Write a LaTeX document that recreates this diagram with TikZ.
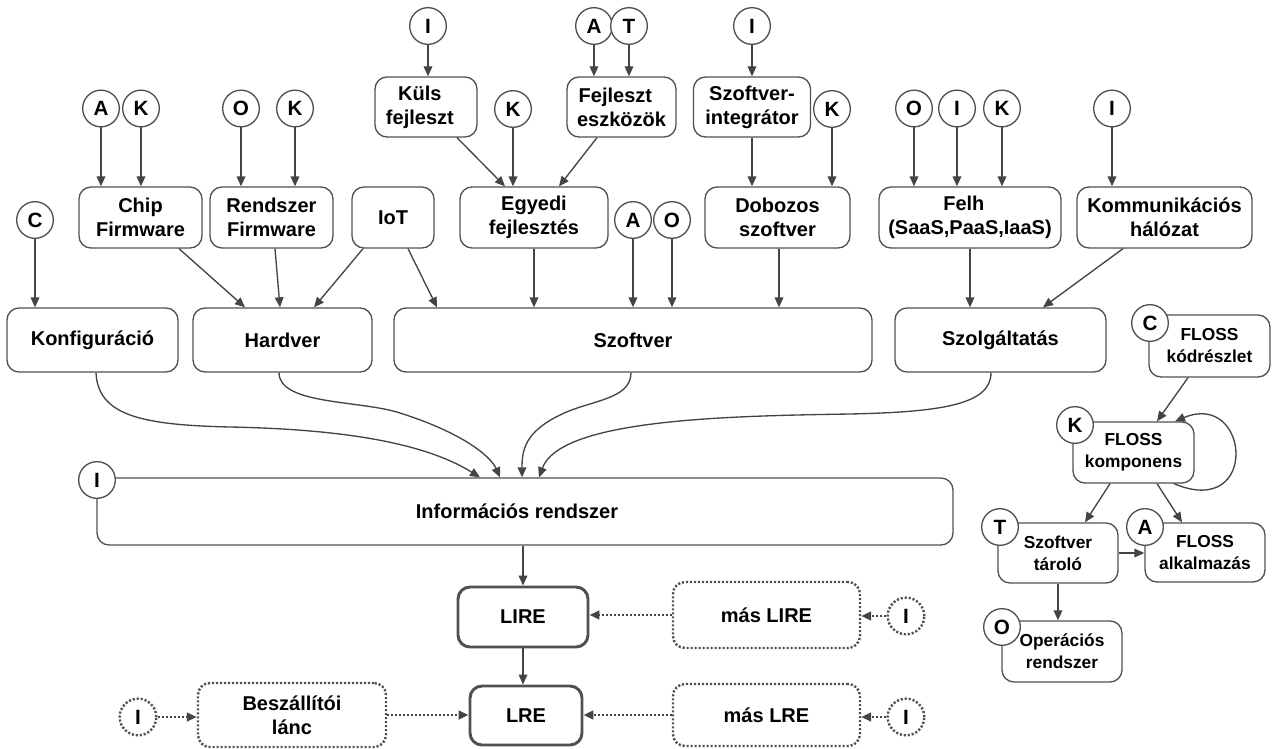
\documentclass[tikz,border=0pt]{standalone}
\usepackage{fontspec}
\setmainfont{Liberation Sans}
\usetikzlibrary{arrows.meta,calc}
\definecolor{ln}{HTML}{444444}
\definecolor{bd}{HTML}{505050}
\begin{document}
\begin{tikzpicture}[x=0.75pt,y=-0.75pt,
  bx/.style 2 args={draw=bd,line width=1pt,rounded corners=9pt,fill=white,
    minimum width=#1*0.75pt,minimum height=#2*0.75pt,inner sep=0pt,align=center,
    font=\bfseries\fontsize{15}{18}\selectfont},
  fbx/.style 2 args={bx={#1}{#2},font=\bfseries\fontsize{13}{16.5}\selectfont},
  thk/.style={line width=2.2pt},
  dbx/.style 2 args={bx={#1}{#2},draw=bd,line width=1.8pt,dash pattern=on 1.6pt off 1.4pt},
  cir/.style={circle,draw=bd,line width=1pt,fill=white,minimum size=27.5pt,inner sep=0pt,
    font=\bfseries\fontsize{15.5}{18}\selectfont},
  dcir/.style={cir,line width=1.8pt,dash pattern=on 1.6pt off 1.4pt},
  arr/.style={draw=ln,line width=1pt,-{Triangle[length=7.5pt,width=6.5pt]},fill=none},
  darr/.style={arr,line width=1.8pt,dash pattern=on 1.6pt off 1.4pt}]
\useasboundingbox[fill=white] (0,0) rectangle (1272,749);

% ---- row 1 boxes
\node[bx={102}{60}] (kuls) at (426,107) {Küls\hphantom{ő}\\fejleszt\hphantom{ő}};
\node[bx={109}{60}] (fejl) at (621.5,107) {Fejleszt\hphantom{ő}\\eszközök};
\node[bx={117}{60}] (integ) at (752,107) {Szoftver-\\integrátor};

% ---- row 2 boxes
\node[bx={123}{61}] (chip) at (140.5,217.5) {Chip\\Firmware};
\node[bx={123}{61}] (rfw) at (271.5,217.5) {Rendszer\\Firmware};
\node[bx={82}{61}] (iot) at (393,217.5) {IoT};
\node[bx={148}{61}] (egyedi) at (534,217.5) {Egyedi\\fejlesztés};
\node[bx={145}{61}] (dobozos) at (777.5,217.5) {Dobozos\\szoftver};
\node[bx={182}{61}] (felho) at (970,217.5) {Felh\hphantom{ő}\\(SaaS,PaaS,IaaS)};
\node[bx={175}{61}] (komm) at (1164.5,217.5) {Kommunikációs\\hálózat};

% ---- row 3 boxes
\node[bx={171}{64}] (konf) at (92.5,340) {Konfiguráció};
\node[bx={179}{64}] (hardver) at (282.5,340) {Hardver};
\node[bx={478}{64}] (szoftver) at (633,340) {Szoftver};
\node[bx={211}{64}] (szolg) at (1000.5,340) {Szolgáltatás};

% ---- information system and bottom
\node[bx={856}{67}] (info) at (525,511.5) {Információs rendszer\hspace{12pt}};
\node[bx={130}{60},thk] (lire) at (523,617) {LIRE};
\node[bx={112}{59},thk] (lre) at (526,715.5) {LRE};
\node[dbx={187}{66}] (maslire) at (766.5,615) {más LIRE};
\node[dbx={187}{62}] (maslre) at (766.5,715) {más LRE};
\node[dbx={188}{64}] (beszall) at (292,715) {Beszállítói\\lánc};

% ---- FLOSS cluster
\node[fbx={121}{62}] (kodr) at (1209.5,346) {FLOSS\\kódrészlet};
\node[fbx={121}{61}] (komp) at (1133.5,452.5) {FLOSS\\komponens};
\node[fbx={120}{60}] (tarolo) at (1058,553) {Szoftver\\tároló};
\node[fbx={120}{59}] (alk) at (1205,552.5) {FLOSS\\alkalmazás};
\node[fbx={120}{61}] (oprend) at (1062,651.5) {Operációs\\rendszer};

% ---- circles
\node[cir] (cI1) at (428,26) {I};
\node[cir] (cA1) at (594,26) {A};
\node[cir] (cT1) at (629,26) {T};
\node[cir] (cI2) at (752,26) {I};
\node[cir] (cK1) at (513,109) {K};
\node[cir] (cK2) at (832,109) {K};
\node[cir] (cA2) at (101,108.5) {A};
\node[cir] (cK3) at (141,108.5) {K};
\node[cir] (cO1) at (241,108.5) {O};
\node[cir] (cK4) at (295,108.5) {K};
\node[cir] (cO2) at (914,108.5) {O};
\node[cir] (cI3) at (957,108.5) {I};
\node[cir] (cK5) at (1002,108.5) {K};
\node[cir] (cI4) at (1112,108.5) {I};
\node[cir] (cC1) at (35,220) {C};
\node[cir] (cA3) at (633,220) {A};
\node[cir] (cO3) at (672,220) {O};
\node[cir] (cI5) at (97,480) {I};
\node[cir] (cC2) at (1150,323) {C};
\node[cir] (cK6) at (1075,425) {K};
\node[cir] (cT2) at (1000,527) {T};
\node[cir] (cA4) at (1145,527) {A};
\node[cir] (cO4) at (1002,627) {O};
\node[dcir] (dI1) at (906,616) {I};
\node[dcir] (dI2) at (906,717) {I};
\node[dcir] (dI3) at (138,717) {I};

% ---- vertical arrows from circles
\foreach \c/\b in {cI1/kuls,cA1/fejl,cT1/fejl,cI2/integ,cK1/egyedi,cK2/dobozos,
  cA2/chip,cK3/chip,cO1/rfw,cK4/rfw,cO2/felho,cI3/felho,cK5/felho,cI4/komm,
  cC1/konf,cA3/szoftver,cO3/szoftver}
  \draw[arr] (\c) -- (\c |- \b.north);

% ---- row1 -> row2
\draw[arr] ($(kuls.south)+(31,0)$) -- ($(egyedi.north)+(-29,0)$);
\draw[arr] ($(fejl.south)+(-24.5,0)$) -- ($(egyedi.north)+(25,0)$);
\draw[arr] (integ.south) -- (integ.south |- dobozos.north);

% ---- row2 -> row3
\draw[arr] ($(chip.south)+(38.5,0)$) -- ($(hardver.north)+(-37.5,0)$);
\draw[arr] ($(rfw.south)+(3.5,0)$) -- ($(hardver.north)+(-2.5,0)$);
\draw[arr] ($(iot.south)+(-30,0)$) -- ($(hardver.north)+(31.5,0)$);
\draw[arr] ($(iot.south)+(15,0)$) -- ($(szoftver.north)+(-196,0)$);
\draw[arr] (egyedi.south) -- (egyedi.south |- szoftver.north);
\draw[arr] ($(dobozos.south)+(1.5,0)$) -- ($(dobozos.south |- szoftver.north)+(1.5,0)$);
\draw[arr] (felho.south) -- (felho.south |- szolg.north);
\draw[arr] ($(komm.south)+(-41.5,0)$) -- ($(szolg.north)+(42.5,0)$);

% ---- row3 -> info (curves)
\draw[arr] ($(konf.south)+(3.5,0)$) .. controls (98,415) and (140,425) .. (230,427)
  .. controls (330,429) and (420,440) .. ($(info.north)+(-45,0)$);
\draw[arr] ($(hardver.south)+(-3.5,0)$) .. controls (279,405) and (360,400) .. (400,413)
  .. controls (460,432) and (490,455) .. ($(info.north)+(-25,0)$);
\draw[arr] ($(szoftver.south)+(-2,0)$) .. controls (631,400) and (590,400) .. (560,415)
  .. controls (525,432) and (522,450) .. ($(info.north)+(-3,0)$);
\draw[arr] ($(szolg.south)+(-9.5,0)$) .. controls (991,405) and (940,412) .. (850,414)
  .. controls (720,416) and (560,420) .. ($(info.north)+(14,0)$);

% ---- bottom chain
\draw[arr] (lire.north |- info.south) -- (lire.north);
\draw[arr] (lire.south) -- (lire.south |- lre.north);
\draw[darr] (maslire.west) -- (maslire.west -| lire.east);
\draw[darr] (dI1.west) -- (dI1.west -| maslire.east);
\draw[darr] (maslre.west) -- (maslre.west -| lre.east);
\draw[darr] (dI2.west) -- (dI2.west -| maslre.east);
\draw[darr] (dI3.east) -- (dI3.east -| beszall.west);
\draw[darr] (beszall.east) -- (beszall.east -| lre.west);

% ---- FLOSS arrows
\draw[arr] ($(kodr.south)+(-21.5,0)$) -- ($(komp.north)+(23.5,0)$);
\draw[arr] ($(komp.south)+(40.5,0)$) .. controls (1260,520) and (1250,390) .. ($(komp.north)+(41.5,0)$);
\draw[arr] ($(komp.south)+(-23.5,0)$) -- ($(tarolo.north)+(27,0)$);
\draw[arr] ($(komp.south)+(23.5,0)$) -- ($(alk.north)+(-23,0)$);
\draw[arr] (tarolo.east) -- (tarolo.east -| alk.west);
\draw[arr] (tarolo.south) -- (tarolo.south |- oprend.north);
\end{tikzpicture}
\end{document}
